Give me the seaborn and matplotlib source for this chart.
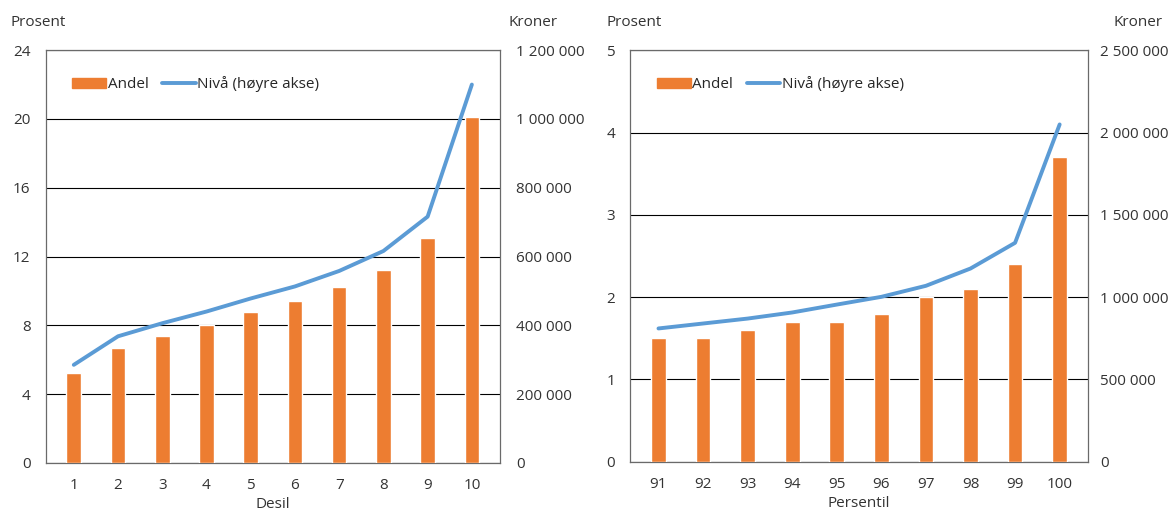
import matplotlib.pyplot as plt
import numpy as np
import pandas as pd
import seaborn as sns
from matplotlib.lines import Line2D
from matplotlib.patches import Patch
from matplotlib.ticker import FuncFormatter

bar_color = "#ED7D31"
line_color = "#5B9BD5"

sns.set_theme(style="white")
plt.rcParams["font.family"] = ["Open Sans", "DejaVu Sans"]

desil = ["1", "2", "3", "4", "5", "6", "7", "8", "9", "10"]
desil_andel = [5.2, 6.7, 7.4, 8.0, 8.75, 9.4, 10.2, 11.2, 13.1, 20.1]
desil_niva = [285000, 368000, 406000, 440000, 478000, 513000, 558000, 616000, 716000, 1100000]

persentil = ["91", "92", "93", "94", "95", "96", "97", "98", "99", "100"]
persentil_andel = [1.5, 1.5, 1.6, 1.7, 1.7, 1.8, 2.0, 2.1, 2.4, 3.7]
persentil_niva = [810000, 840000, 870000, 907000, 955000, 1002000, 1069000, 1174000, 1330000, 2049000]

fs = 11
text_color = "#333333"


def kroner(v, _pos):
    return f"{v:,.0f}".replace(",", " ")


def draw_panel(ax, cats, andel, niva, xlabel, pct_max, n_ticks, kr_max, kr_step,
               prosent_x, kroner_x, right_pad):
    df = pd.DataFrame({"cat": cats, "andel": andel, "niva": niva})
    sns.barplot(data=df, x="cat", y="andel", color=bar_color, width=0.33,
                saturation=1, ax=ax, zorder=3)
    ax.set_ylim(0, pct_max)
    ax.set_yticks(np.linspace(0, pct_max, n_ticks))
    ax.yaxis.grid(True, color="black", linewidth=0.8, zorder=0)
    ax.set_axisbelow(True)
    ax.set_xlabel(xlabel, fontsize=fs, labelpad=3, color=text_color)
    ax.set_ylabel("")
    ax.tick_params(axis="both", length=0, labelsize=fs, colors=text_color)
    ax.tick_params(axis="x", pad=11)
    ax.tick_params(axis="y", pad=11)
    for s in ax.spines.values():
        s.set_color("#6a6a6a")
        s.set_linewidth(0.9)

    ax2 = ax.twinx()
    sns.lineplot(x=np.arange(len(cats)), y=niva, color=line_color, linewidth=2.8, ax=ax2)
    ax2.set_ylim(0, kr_max)
    ax2.set_yticks(np.arange(0, kr_max + 1, kr_step))
    ax2.yaxis.set_major_formatter(FuncFormatter(kroner))
    ax2.tick_params(axis="y", length=0, labelsize=fs, colors=text_color, pad=right_pad)
    for s in ax2.spines.values():
        s.set_visible(False)

    ax.text(prosent_x, 1.067, "Prosent", transform=ax.transAxes,
            fontsize=fs, va="center", ha="left", color=text_color)
    ax.text(kroner_x, 1.067, "Kroner", transform=ax.transAxes,
            fontsize=fs, va="center", ha="left", color=text_color)

    handles = [Patch(color=bar_color, label="Andel"),
               Line2D([0], [0], color=line_color, linewidth=2.8, label="Nivå (høyre akse)")]
    ax.legend(handles=handles, loc="center left", bbox_to_anchor=(0.045, 0.917), ncol=2,
              frameon=False, fontsize=fs, handlelength=2.2, handletextpad=0.1,
              columnspacing=0.9, borderaxespad=0)


fig = plt.figure(figsize=(11.76, 5.12), dpi=100)
ax_left = fig.add_axes([0.039, 0.096, 0.386, 0.806])
ax_right = fig.add_axes([0.536, 0.098, 0.389, 0.804])

draw_panel(ax_left, desil, desil_andel, desil_niva, "Desil", 24, 7, 1200000, 200000,
           -0.078, 1.02, 12)
draw_panel(ax_right, persentil, persentil_andel, persentil_niva, "Persentil", 5, 6, 2500000,
           500000, -0.053, 1.057, 9)

fig.savefig("out.png", dpi=100, facecolor="white")
